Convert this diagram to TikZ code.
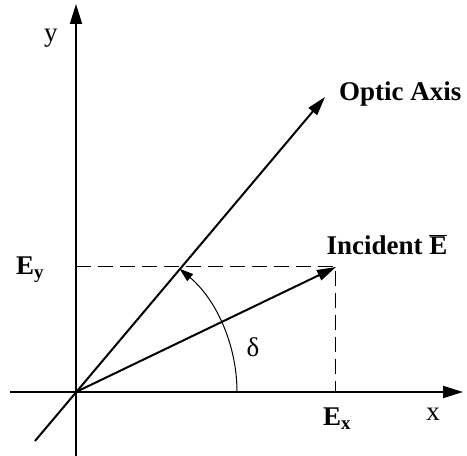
\documentclass[tikz,border=0pt]{standalone}
\usepackage{fontspec}
\setmainfont{Liberation Serif}
\usetikzlibrary{arrows.meta}

\begin{document}
\begin{tikzpicture}[
  x=1pt, y=1pt,
  axis/.style={line width=2pt, -{Triangle[length=20pt, width=12pt]}},
  vec/.style={line width=2pt, -{Triangle[length=19pt, width=11pt]}},
  guide/.style={line width=1pt, dash pattern=on 15pt off 7pt},
  angarr/.style={line width=1pt, -{Triangle[length=14pt, width=9pt]}},
  lbl/.style={font=\fontsize{27}{30}\selectfont, inner sep=0pt},
  blbl/.style={font=\fontsize{27}{30}\selectfont\bfseries, inner sep=0pt}
]
\useasboundingbox (-76,-64) rectangle (391,392);

% axes
\coordinate (O) at (0,0);
\coordinate (xl) at (-66,0);
\coordinate (xr) at (387,0);
\coordinate (yb) at (0,-64);
\coordinate (yt) at (0,388);
\draw[axis] (xl) -- (xr);
\draw[axis] (yb) -- (yt);

% optic axis and field
\coordinate (oa0) at (-41,-49);
\coordinate (oa1) at (249,295);
\coordinate (Etip) at (260,125);
\coordinate (Ey) at (0,125);
\coordinate (Ex) at (260,0);
\coordinate (arc0) at (161,0);
\draw[vec] (oa0) -- (oa1);
\draw[vec] (O) -- (Etip);
\draw[guide] (Ey) -- (Etip) -- (Ex);
\draw[angarr] (arc0) arc[start angle=0, end angle=50, radius=161];

% labels
\node[lbl] (ylab) at (-25,354) {y};
\node[lbl] (xlab) at (357,-22) {x};
\node[blbl, anchor=west] (optic) at (263,298) {Optic Axis};
\node[blbl] (inc) at (311,147) {Incident $\overline{\hbox{\bfseries E}}$};
\node[blbl] (eylab) at (-46,122) {E\textsubscript{y}};
\node[blbl] (exlab) at (261,-27) {E\textsubscript{x}};
\node[lbl] (delta) at (177,45) {δ};
\end{tikzpicture}
\end{document}
